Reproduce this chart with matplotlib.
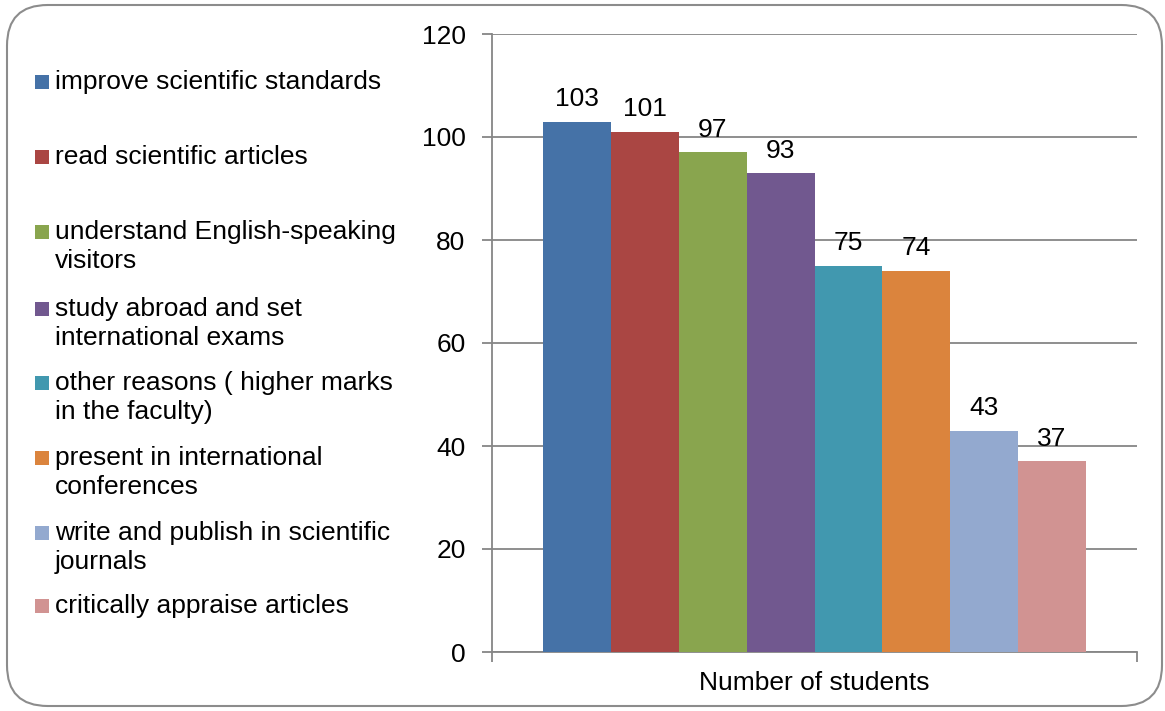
import matplotlib.pyplot as plt
from matplotlib.patches import FancyBboxPatch, Rectangle

# data
labels = [
    "improve scientific standards",
    "read scientific articles",
    "understand English-speaking\nvisitors",
    "study abroad and set\ninternational exams",
    "other reasons ( higher marks\nin the faculty)",
    "present in international\nconferences",
    "write and publish in scientific\njournals",
    "critically appraise articles",
]
values = [103, 101, 97, 93, 75, 74, 43, 37]
colors = ["#4572A7", "#AA4643", "#89A54E", "#71588F",
          "#4198AF", "#DB843D", "#93A9CF", "#D19392"]
yticks = [0, 20, 40, 60, 80, 100, 120]
xlabel = "Number of students"

W, H = 1165, 711
FS = 19
plt.rcParams['font.family'] = ['Liberation Sans', 'DejaVu Sans']
fig = plt.figure(figsize=(W / 100, H / 100), dpi=100)

def fx(px):
    return px / W

def fy(py):
    return 1 - py / H

# outer rounded frame
frame = FancyBboxPatch((fx(7), fy(706)), fx(1162) - fx(7), fy(5) - fy(706),
                       boxstyle="round,pad=0,rounding_size=0.035",
                       transform=fig.transFigure, fill=False,
                       edgecolor="#8c8c8c", linewidth=1.5,
                       mutation_aspect=W / H)
fig.patches.append(frame)

ax = fig.add_axes([fx(492), fy(652), fx(1137) - fx(492), fy(34) - fy(652)])

n = len(values)
bw = 0.842 / n
start = -0.421 + bw / 2
for i, (v, c) in enumerate(zip(values, colors)):
    x = start + i * bw
    ax.bar(x, v, width=bw, color=c, linewidth=0, zorder=3)
    ax.text(x, v + 3.0, str(v), ha='center', va='baseline', fontsize=FS, color='black')

ax.set_xlim(-0.5, 0.5)
ax.set_ylim(0, 120)
ax.set_yticks(yticks)
ax.yaxis.grid(True, color='#868686', linewidth=1.3, zorder=0)
ax.tick_params(axis='y', length=7, width=1.3, color='#868686', labelsize=FS, pad=12)
ax.set_xticks([-0.5, 0.5])
ax.set_xticklabels(['', ''])
ax.tick_params(axis='x', direction='out', length=7, width=1.3, color='#868686')
for s in ['top', 'right']:
    ax.spines[s].set_visible(False)
for s in ['left', 'bottom']:
    ax.spines[s].set_color('#868686')
    ax.spines[s].set_linewidth(1.3)
ax.set_xlabel(xlabel, fontsize=FS, va='center')
ax.xaxis.set_label_coords(0.5, (652 - 683) / 618)

# legend drawn on the left
first_line_y = [82, 157, 232, 309, 383, 458, 533, 606]
line_step = 29
for lab, c, py in zip(labels, colors, first_line_y):
    fig.patches.append(Rectangle((fx(35), fy(py + 7)), fx(14), fy(py - 7) - fy(py + 7),
                                 transform=fig.transFigure, facecolor=c,
                                 edgecolor='none'))
    for k, line in enumerate(lab.split("\n")):
        fig.text(fx(55), fy(py + k * line_step), line, ha='left', va='center',
                 fontsize=FS, color='black')

fig.savefig("out.png", dpi=100)
